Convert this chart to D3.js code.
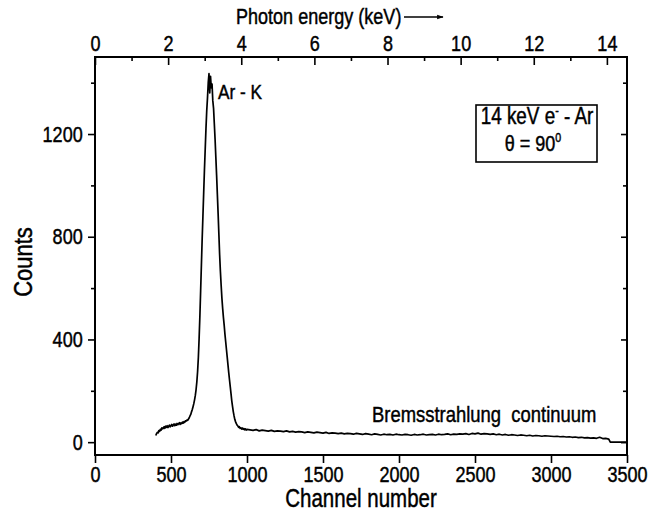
<!DOCTYPE html>
<html>
<head>
<meta charset="utf-8">
<script src="https://cdn.jsdelivr.net/npm/d3@7"></script>
<style>
  body { margin: 0; background: #fff; }
  text { font-family: "Liberation Sans", Arial, Helvetica, sans-serif; fill: #000; stroke: #000; stroke-width: 0.45px; }
</style>
</head>
<body>
<div id="chart"></div>
<script>
// spectrum
const peakStart = 400, peakStep = 5;
const peakCounts = [26, 33, 38, 36, 45, 42, 50, 47, 56, 52,
  55, 60, 54, 62, 58, 64, 57, 63, 66, 60,
  64, 69, 62, 67, 71, 64, 70, 66, 73, 68,
  72, 76, 69, 75, 72, 78, 74, 80, 77, 83,
  82, 86, 85, 90, 95, 102, 108, 118, 127, 138,
  150, 165, 182, 205, 235, 275, 330, 405, 490, 590,
  690, 790, 880, 970, 1060, 1140, 1220, 1290, 1340, 1400,
  1435, 1360, 1425, 1380, 1395, 1330, 1300, 1240, 1180, 1110,
  1040, 965, 890, 810, 730, 665, 610, 560, 520, 485,
  455, 420, 390, 360, 330, 300, 270, 242, 215, 188,
  160, 138, 118, 102, 88, 79, 72, 66, 63, 58,
  60, 54, 56, 51, 55, 50, 53, 48, 52, 47,
  50];

const contStart = 1020, contStep = 20;
const contCounts = [48, 46, 49, 44, 47, 45, 43, 46, 42, 44,
  43, 41, 44, 40, 42, 39, 41, 40, 37, 40,
  38, 36, 39, 37, 35, 38, 34, 36, 35, 33,
  35, 32, 34, 33, 31, 34, 32, 30, 33, 31,
  29, 32, 30, 28, 31, 29, 30, 28, 31, 29,
  28, 30, 29, 27, 30, 28, 29, 31, 28, 29,
  30, 28, 31, 29, 30, 32, 29, 31, 30, 32,
  31, 33, 30, 34, 32, 35, 31, 33, 32, 30,
  32, 29, 31, 28, 30, 27, 29, 28, 26, 28,
  27, 25, 27, 24, 26, 25, 23, 25, 24, 23,
  22, 23, 21, 22, 20, 21, 19, 20, 18, 19,
  17, 18, 16, 17, 15, 19, 14, 15, 12];

const tailChannels = [3390, 3500];
const tailCounts = [0, 0];

const channelTicks = [0, 500, 1000, 1500, 2000, 2500, 3000, 3500];
const countTicks = [0, 400, 800, 1200];
const countMinor = [200, 600, 1000, 1400];
const energyTicks = [0, 2, 4, 6, 8, 10, 12, 14];
const energyMinor = [1, 3, 5, 7, 9, 11, 13];
const energyMax = 14.55;   // keV at channel 3500

let width = 668, height = 524;
let pl = 95, pr = 627, pt = 57, pb = 455;   // plot frame
const sx = 0.82;   // the original lettering is narrow

let data = [];
peakCounts.forEach((c, i) => data.push({ ch: peakStart + i * peakStep, c: c }));
contCounts.forEach((c, i) => data.push({ ch: contStart + i * contStep, c: c }));
tailCounts.forEach((c, i) => data.push({ ch: tailChannels[i], c: c }));

let svg = d3.select("#chart").append("svg")
  .attr("width", width)
  .attr("height", height);

let x = d3.scaleLinear().domain([0, 3500]).range([pl, pr]);
let xTop = d3.scaleLinear().domain([0, energyMax]).range([pl, pr]);
let y = d3.scaleLinear().domain([-50, 1500]).range([pb, pt]);

svg.append("clipPath").attr("id", "clip")
  .append("rect").attr("x", pl).attr("y", pt)
  .attr("width", pr - pl).attr("height", pb - pt);

svg.append("path")
  .datum(data)
  .attr("clip-path", "url(#clip)")
  .attr("fill", "none")
  .attr("stroke", "#000")
  .attr("stroke-width", 1.7)
  .attr("stroke-linejoin", "round")
  .attr("d", d3.line().x(d => x(d.ch)).y(d => y(d.c)));

function styleAxis(g) {
  g.select(".domain").remove();
  g.selectAll("line").attr("stroke", "#000").attr("stroke-width", 1.6);
  g.selectAll("text").attr("font-size", 22).attr("fill", "#000")
    .attr("font-family", null)
    .attr("transform", `scale(${sx},1)`);
}

const fmt = d3.format("d");

// bottom
svg.append("g").attr("transform", `translate(0,${pb})`)
  .call(d3.axisBottom(x).tickValues(channelTicks).tickSize(8).tickPadding(3).tickFormat(fmt))
  .call(styleAxis);

// left
svg.append("g").attr("transform", `translate(${pl},0)`)
  .call(d3.axisLeft(y).tickValues(countTicks).tickSize(7).tickPadding(8).tickFormat(fmt))
  .call(styleAxis);
svg.append("g").attr("transform", `translate(${pl},0)`)
  .call(d3.axisLeft(y).tickValues(countMinor).tickSize(4).tickFormat(""))
  .call(styleAxis);

// right, inward
svg.append("g").attr("transform", `translate(${pr},0)`)
  .call(d3.axisLeft(y).tickValues(countTicks).tickSize(6).tickFormat(""))
  .call(styleAxis);
svg.append("g").attr("transform", `translate(${pr},0)`)
  .call(d3.axisLeft(y).tickValues(countMinor).tickSize(4).tickFormat(""))
  .call(styleAxis);

// top, photon energy, ticks inward
svg.append("g").attr("transform", `translate(0,${pt})`)
  .call(d3.axisTop(xTop).tickValues(energyTicks).tickSize(-8).tickPadding(6).tickFormat(fmt))
  .call(styleAxis);
svg.append("g").attr("transform", `translate(0,${pt})`)
  .call(d3.axisTop(xTop).tickValues(energyMinor).tickSize(-4).tickFormat(""))
  .call(styleAxis);

// frame
svg.append("rect")
  .attr("x", pl).attr("y", pt)
  .attr("width", pr - pl).attr("height", pb - pt)
  .attr("fill", "none").attr("stroke", "#000").attr("stroke-width", 2);

// titles
svg.append("text")
  .attr("transform", `translate(${(pl + pr) / 2},507) scale(${sx},1)`)
  .attr("text-anchor", "middle").attr("font-size", 25)
  .text("Channel number");

svg.append("text")
  .attr("transform", `translate(32,262) rotate(-90) scale(0.88,1)`)
  .attr("text-anchor", "middle").attr("font-size", 25)
  .text("Counts");

svg.append("text")
  .attr("transform", `translate(236,24) scale(${sx},1)`)
  .attr("font-size", 22)
  .text("Photon energy (keV)");

svg.append("defs").append("marker")
  .attr("id", "arrow").attr("viewBox", "0 0 10 10")
  .attr("refX", 9).attr("refY", 5)
  .attr("markerWidth", 7).attr("markerHeight", 5)
  .attr("orient", "auto")
  .append("path").attr("d", "M0,1.5L10,5L0,8.5Z").attr("fill", "#000");

svg.append("line")
  .attr("x1", 404).attr("x2", 443).attr("y1", 17).attr("y2", 17)
  .attr("stroke", "#000").attr("stroke-width", 1.3)
  .attr("marker-end", "url(#arrow)");

// annotations
svg.append("text")
  .attr("transform", `translate(218,99) scale(${sx},1)`)
  .attr("font-size", 21)
  .text("Ar - K");

svg.append("text")
  .attr("transform", `translate(372,422) scale(${sx},1)`)
  .attr("font-size", 22.5)
  .style("white-space", "pre")
  .text("Bremsstrahlung  continuum");

// legend box
svg.append("rect")
  .attr("x", 476).attr("y", 105).attr("width", 121).attr("height", 57)
  .attr("fill", "#fff").attr("stroke", "#000").attr("stroke-width", 1.6);

let t1 = svg.append("text")
  .attr("transform", `translate(537,124) scale(${sx},1)`)
  .attr("text-anchor", "middle").attr("font-size", 23);
t1.append("tspan").text("14 keV e");
t1.append("tspan").attr("dy", -9).attr("font-size", 13).text("-");
t1.append("tspan").attr("dy", 9).text(" - Ar");

let t2 = svg.append("text")
  .attr("transform", `translate(533,151) scale(${sx},1)`)
  .attr("text-anchor", "middle").attr("font-size", 22);
t2.append("tspan").text("\u03b8 = 90");
t2.append("tspan").attr("dy", -9).attr("font-size", 13).text("0");
</script>
</body>
</html>
